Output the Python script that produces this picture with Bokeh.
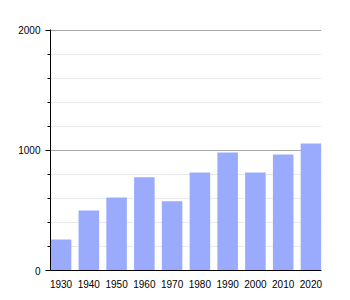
from bokeh.plotting import figure
from bokeh.models import Range1d, FixedTicker
from bokeh.embed import file_html
from bokeh.resources import INLINE

years = ["1930", "1940", "1950", "1960", "1970", "1980", "1990", "2000", "2010", "2020"]
population = [258, 500, 608, 778, 578, 817, 983, 817, 967, 1058]
y_ticks = [0, 1000, 2000]

idx = list(range(len(years)))

p = figure(width=350, height=300, output_backend="svg", toolbar_location=None,
           x_range=Range1d(-0.38, 9.38), y_range=Range1d(0, 2008.3),
           min_border_left=50, min_border_right=29, min_border_top=29, min_border_bottom=30)
p.outline_line_color = None
p.background_fill_color = "white"

p.vbar(x=idx, top=population, width=0.74, color="#9aabfe", line_color=None)

FONT = "Liberation Sans"

# x axis
p.xaxis.ticker = FixedTicker(ticks=idx)
p.xaxis.major_label_overrides = {i: y for i, y in zip(idx, years)}
p.xaxis.major_tick_line_color = None
p.xaxis.minor_tick_line_color = None
p.xaxis.axis_line_color = "black"
p.xaxis.major_label_text_font = FONT
p.xaxis.major_label_text_font_size = "10px"
p.xaxis.major_label_text_color = "black"
p.xaxis.major_label_standoff = 3

p.xgrid.grid_line_color = None

# y axis
p.yaxis.ticker = FixedTicker(ticks=y_ticks, minor_ticks=list(range(0, 2001, 200)))
p.yaxis.axis_line_color = "black"
p.yaxis.major_tick_line_color = "black"
p.yaxis.minor_tick_line_color = "black"
p.yaxis.major_tick_in = 0
p.yaxis.major_tick_out = 5
p.yaxis.minor_tick_in = 0
p.yaxis.minor_tick_out = 3
p.yaxis.major_label_text_font = FONT
p.yaxis.major_label_text_font_size = "10px"
p.yaxis.major_label_text_color = "black"
p.yaxis.major_label_standoff = 5

p.ygrid.grid_line_color = "#a8a8a8"
p.ygrid.minor_grid_line_color = "#e8e8e8"
p.ygrid.level = "underlay"

open("out.html", "w").write(file_html(p, INLINE))
